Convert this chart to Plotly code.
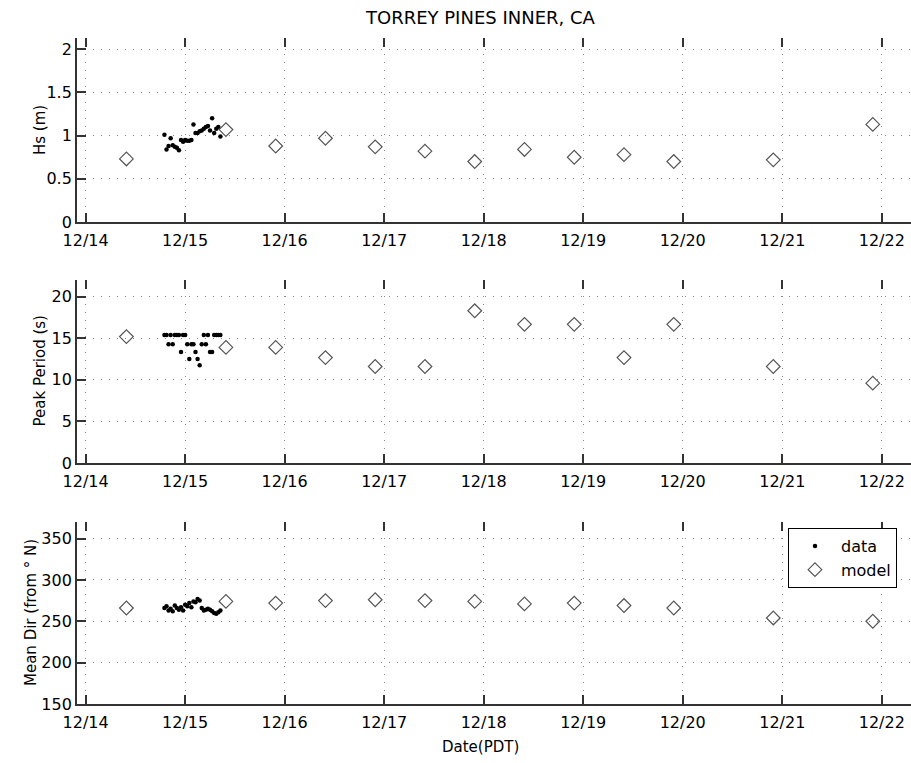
import plotly.graph_objects as go
from datetime import datetime, timedelta

# ---------------- data ----------------
data_start = datetime(2006, 12, 14, 19, 0)
data_times = [data_start + timedelta(minutes=30 * i) for i in range(28)]
hs_data = [1.01, 0.84, 0.88, 0.97, 0.89, 0.87, 0.86, 0.83, 0.95, 0.93, 0.95, 0.94, 0.94, 0.95,
           1.13, 1.03, 1.03, 1.05, 1.06, 1.08, 1.10, 1.11, 1.06, 1.20, 1.03, 1.08, 1.10, 0.99]
tp_data = [15.38, 15.38, 14.29, 15.38, 14.29, 15.38, 15.38, 15.38, 13.33, 15.38, 15.38, 14.29, 12.5, 14.29,
           14.29, 13.33, 12.5, 11.76, 14.29, 15.38, 14.29, 15.38, 13.33, 13.33, 15.38, 15.38, 15.38, 15.38]
dir_data = [266, 268, 263, 265, 262, 269, 266, 264, 267, 263, 270, 268, 272, 267,
            274, 273, 277, 275, 266, 263, 264, 265, 264, 262, 260, 259, 261, 263]

model_times = ["2006-12-14 09:50", "2006-12-15 09:50", "2006-12-15 21:50", "2006-12-16 09:50",
               "2006-12-16 21:50", "2006-12-17 09:50", "2006-12-17 21:50", "2006-12-18 09:50",
               "2006-12-18 21:50", "2006-12-19 09:50", "2006-12-19 21:50", "2006-12-20 21:50",
               "2006-12-21 21:50"]
hs_model = [0.73, 1.07, 0.88, 0.97, 0.87, 0.82, 0.70, 0.84, 0.75, 0.78, 0.70, 0.72, 1.13]
tp_model = [15.2, 13.9, 13.9, 12.67, 11.6, 11.6, 18.3, 16.67, 16.67, 12.67, 16.67, 11.6, 9.6]
dir_model = [266, 274, 272, 275, 276, 275, 274, 271, 272, 269, 266, 254, 250]

x_tick_vals = ["2006-12-14", "2006-12-15", "2006-12-16", "2006-12-17", "2006-12-18",
               "2006-12-19", "2006-12-20", "2006-12-21", "2006-12-22"]
x_tick_text = ["12/14", "12/15", "12/16", "12/17", "12/18", "12/19", "12/20", "12/21", "12/22"]
x_range = ["2006-12-13 21:55", "2006-12-22 07:03"]

hs_ticks = [0, 0.5, 1, 1.5, 2]
hs_tick_text = ["0", "0.5", "1", "1.5", "2"]
tp_ticks = [0, 5, 10, 15, 20]
dir_ticks = [150, 200, 250, 300, 350]

title_text = "TORREY PINES INNER, CA"
y_titles = ["Hs (m)", "Peak Period (s)", "Mean Dir (from ° N)"]
x_title = "Date(PDT)"

# ---------------- figure ----------------
FONT = "DejaVu Sans, Liberation Sans, Arial, sans-serif"
AXC = "#333333"
GRIDC = "#8a8a8a"

fig = go.Figure()

series = [(hs_data, hs_model, "x", "y"), (tp_data, tp_model, "x2", "y2"), (dir_data, dir_model, "x3", "y3")]
for i, (d, m, xa, ya) in enumerate(series):
    fig.add_trace(go.Scatter(x=data_times, y=d, mode="markers", name="data", xaxis=xa, yaxis=ya,
                             marker=dict(symbol="circle", size=4.5, color="black"),
                             showlegend=(i == 2)))
    fig.add_trace(go.Scatter(x=model_times, y=m, mode="markers", name="model", xaxis=xa, yaxis=ya,
                             marker=dict(symbol="diamond-open", size=10.5, color="#555555",
                                         line=dict(width=1.2, color="#555555")),
                             showlegend=(i == 2)))
# empty traces for the mirrored top tick axes
for xa, ya in [("x4", "y"), ("x5", "y2"), ("x6", "y3")]:
    fig.add_trace(go.Scatter(x=[], y=[], xaxis=xa, yaxis=ya, showlegend=False, hoverinfo="skip"))

domains = [[0.7237, 1.0], [0.3619, 0.6366], [0.0, 0.2733]]
yranges = [[0, 2.13], [0, 22], [150, 370]]
ytickv = [hs_ticks, tp_ticks, dir_ticks]
ytickt = [hs_tick_text, [str(v) for v in tp_ticks], [str(v) for v in dir_ticks]]

tickfont = dict(family=FONT, size=16, color="black")
common_x = dict(type="date", range=x_range, tickmode="array", tickvals=x_tick_vals, ticktext=x_tick_text,
                ticks="inside", ticklen=9, tickwidth=1.5, tickcolor=AXC,
                showline=True, linecolor=AXC, linewidth=1.8,
                showgrid=True, gridcolor=GRIDC, gridwidth=1, griddash="1px,7px",
                zeroline=False, tickfont=tickfont, ticklabelstandoff=3)
common_y = dict(ticks="inside", ticklen=9, tickwidth=1.5, tickcolor=AXC,
                showline=True, linecolor=AXC, linewidth=1.8,
                showgrid=True, gridcolor=GRIDC, gridwidth=1, griddash="1px,7px",
                zeroline=False, tickfont=tickfont)

layout = {}
for i in range(3):
    xn = "xaxis" if i == 0 else f"xaxis{i+1}"
    yn = "yaxis" if i == 0 else f"yaxis{i+1}"
    yref = "y" if i == 0 else f"y{i+1}"
    xref = "x" if i == 0 else f"x{i+1}"
    layout[xn] = dict(common_x, anchor=yref, domain=[0, 1])
    layout[yn] = dict(common_y, anchor=xref, domain=domains[i], range=yranges[i],
                      tickmode="array", tickvals=ytickv[i], ticktext=ytickt[i])
    layout[f"xaxis{i+4}"] = dict(type="date", range=x_range, tickmode="array", tickvals=x_tick_vals,
                                 overlaying=xref, anchor=yref, side="top", showticklabels=False,
                                 ticks="inside", ticklen=9, tickwidth=1.5, tickcolor=AXC,
                                 showline=False, showgrid=False, zeroline=False)

fig.update_layout(**layout)

annotations = [
    dict(text=title_text, xref="paper", yref="paper", x=0.4844, y=1, yshift=21, showarrow=False,
         xanchor="center", yanchor="middle", font=dict(family=FONT, size=18, color="black")),
    dict(text=x_title, xref="paper", yref="paper", x=0.4844, y=0, yshift=-43, showarrow=False,
         xanchor="center", yanchor="middle", font=dict(family=FONT, size=15, color="black")),
]
ycent = [(d[0] + d[1]) / 2 for d in domains]
xshifts = [-37, -37, -46]
for t, yc, xs in zip(y_titles, ycent, xshifts):
    annotations.append(dict(text=t, xref="paper", yref="paper", x=0, y=yc, xshift=xs, showarrow=False,
                            textangle=-90, xanchor="center", yanchor="middle",
                            font=dict(family=FONT, size=15, color="black")))

fig.update_layout(
    width=911, height=763,
    margin=dict(l=77, r=0, t=38, b=59),
    paper_bgcolor="white", plot_bgcolor="white",
    annotations=annotations,
    legend=dict(x=0.9832, y=0.2643, xanchor="right", yanchor="top", xref="paper", yref="paper",
                bgcolor="white", bordercolor="black", borderwidth=1,
                font=dict(family=FONT, size=16, color="black"), itemwidth=42, tracegroupgap=0),
    showlegend=True,
)

fig.write_html("out.html", config={"displayModeBar": False},
               post_script="document.body.style.margin='0px';")
